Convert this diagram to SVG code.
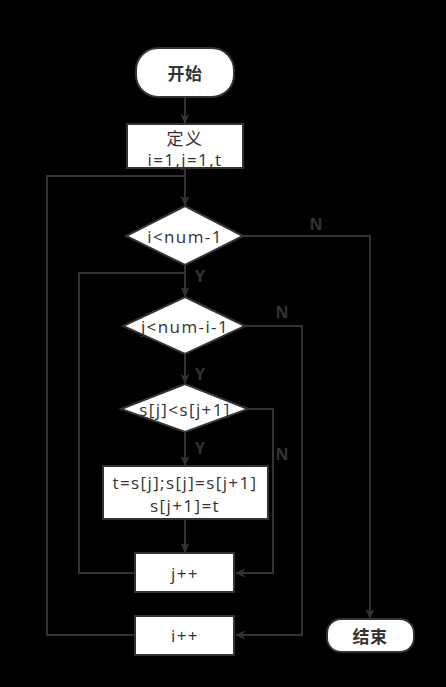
<svg xmlns="http://www.w3.org/2000/svg" width="446" height="687" viewBox="0 0 446 687">
<defs>
<marker id="arr" markerWidth="10" markerHeight="10" refX="9" refY="5" orient="auto" markerUnits="userSpaceOnUse">
<path d="M0,0.5 L10,5 L0,9.5 L2.5,5 Z" fill="#333"/>
</marker>
<style>
.n{fill:#fff;stroke:#333;stroke-width:2}
.t{font-family:"Open Sans","Noto Sans CJK SC",sans-serif;font-size:17px;letter-spacing:1.4px;fill:#333;text-anchor:middle;dominant-baseline:central}
.b{font-weight:bold;letter-spacing:0.5px}
.c{fill:none;stroke:#333;stroke-width:2}
.l{font-family:"Open Sans","Noto Sans",sans-serif;font-size:16px;font-weight:bold;fill:#333;text-anchor:middle;dominant-baseline:central}
</style>
</defs>
<rect width="446" height="687" fill="#000"/>
<g id="connectors">
<path class="c" d="M185,97 V123" marker-end="url(#arr)"/>
<path class="c" d="M185,168 V205" marker-end="url(#arr)"/>
<path class="c" d="M243,236 H370 V618" marker-end="url(#arr)"/>
<path class="c" d="M185,264 V296" marker-end="url(#arr)"/>
<path class="c" d="M245,326 H302 V635 H236" marker-end="url(#arr)"/>
<path class="c" d="M185,354 V383" marker-end="url(#arr)"/>
<path class="c" d="M248,409 H273 V573 H236" marker-end="url(#arr)"/>
<path class="c" d="M185,432 V465" marker-end="url(#arr)"/>
<path class="c" d="M185,519 V552" marker-end="url(#arr)"/>
<path class="c" d="M135,573 H79 V273 H185"/>
<path class="c" d="M135,635 H47 V176 H185"/>
<text class="l" x="316" y="224">N</text>
<text class="l" x="200" y="276">Y</text>
<text class="l" x="282" y="312">N</text>
<text class="l" x="200" y="374">Y</text>
<text class="l" x="282" y="454">N</text>
<text class="l" x="200" y="448">Y</text>
</g>
<g id="start"><rect class="n" x="136" y="48" width="98" height="49" rx="22"/><text class="t b" x="185" y="73">开始</text></g>
<g id="define"><rect class="n" x="127" y="124" width="116" height="44"/><text class="t" x="185" y="138">定义</text><text class="t" x="185" y="159">i=1,j=1,t</text></g>
<g id="cond1"><polygon class="n" points="185,206 243,236 185,265 126,236"/><text class="t" x="185" y="236">i&lt;num-1</text></g>
<g id="cond2"><polygon class="n" points="185,297 245,326 185,354 123,326"/><text class="t" x="185" y="326">j&lt;num-i-1</text></g>
<g id="cond3"><polygon class="n" points="185,384 248,409 185,432 121,409"/><text class="t" x="185" y="409">s[j]&lt;s[j+1]</text></g>
<g id="swap"><rect class="n" x="103" y="466" width="165" height="53"/><text class="t" x="185" y="482">t=s[j];s[j]=s[j+1]</text><text class="t" x="185" y="505">s[j+1]=t</text></g>
<g id="jinc"><rect class="n" x="135" y="553" width="99" height="39"/><text class="t" x="185" y="573">j++</text></g>
<g id="iinc"><rect class="n" x="135" y="616" width="99" height="39"/><text class="t" x="185" y="635">i++</text></g>
<g id="end"><rect class="n" x="327" y="619" width="87" height="33" rx="14"/><text class="t b" x="370" y="636">结束</text></g>
</svg>
